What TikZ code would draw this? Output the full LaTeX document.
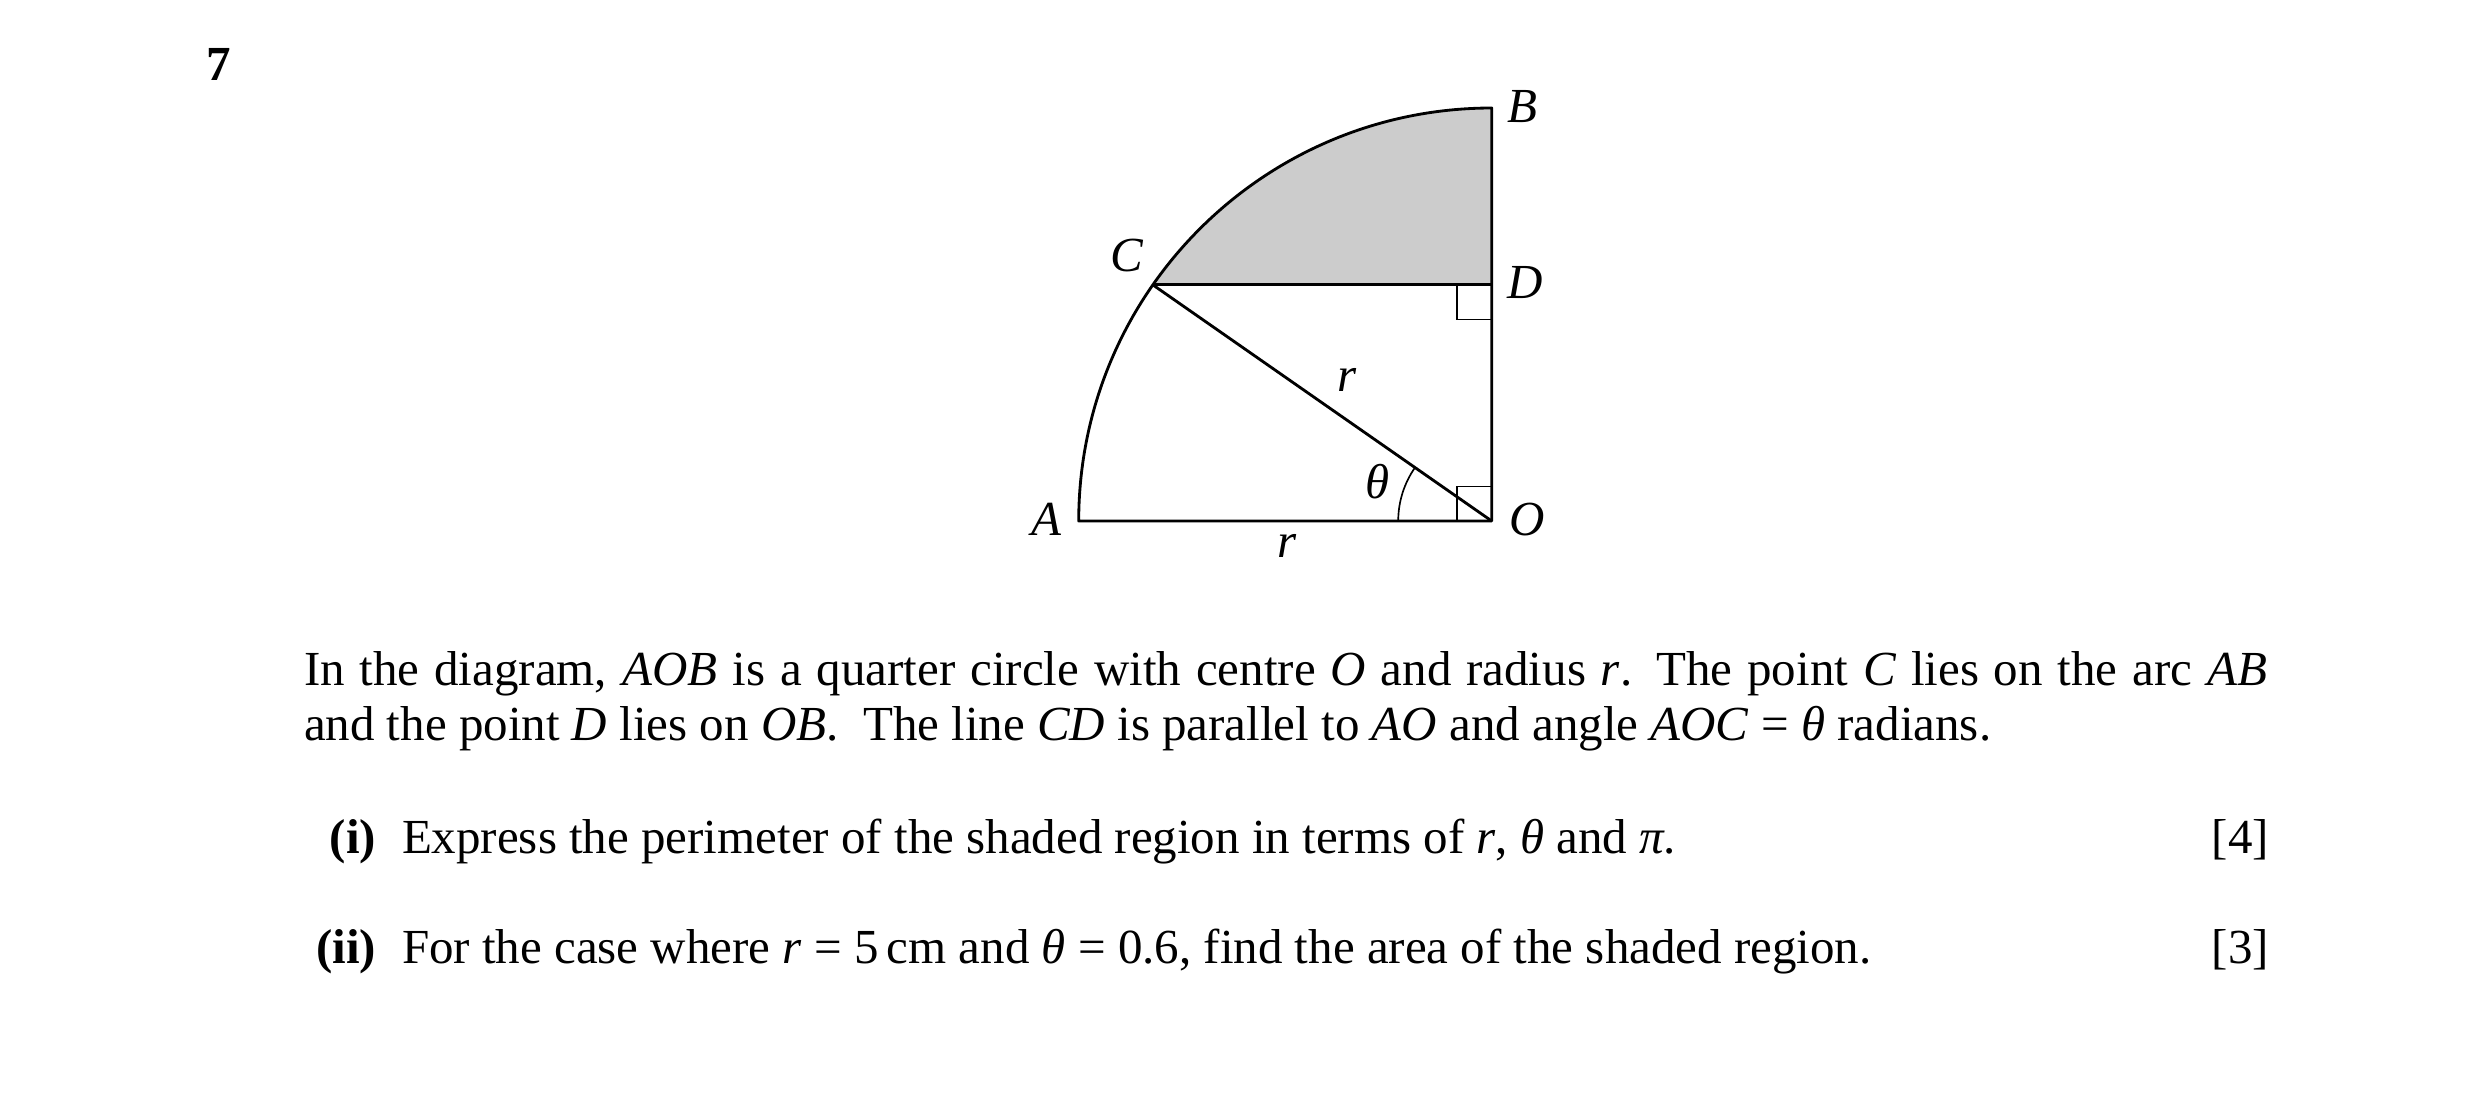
\documentclass[tikz,border=0pt]{standalone}
\usepackage{fontspec}
\setmainfont{Liberation Serif}
\usetikzlibrary{calc}
\begin{document}
\begin{tikzpicture}[x=0.24090pt,y=0.24090pt,
  txt/.style={inner sep=0pt,outer sep=0pt,font=\fontsize{11.8}{14}\selectfont},
  lbl/.style={txt,anchor=base west},
  rgt/.style={txt,anchor=base east},
  thick line/.style={line width=0.68pt,line join=round},
  thin line/.style={line width=0.4pt},
  shade/.style={fill=black!20}]
\useasboundingbox (0,0) rectangle (2480,1118);
% geometry
\coordinate (O) at (1491.7,597);
\coordinate (A) at ($(O)+(-413,0)$);
\coordinate (B) at ($(O)+(0,413)$);
\coordinate (C) at ($(O)+(145.13:413)$);
\coordinate (D) at (O |- C);
% shaded region
\fill[shade] (C) arc[start angle=145.13,end angle=90,radius=413] -- (D) -- cycle;
% right angle marks
\draw[thin line] ($(D)+(-34.5,0)$) -- ($(D)+(-34.5,-34.5)$) -- ($(D)+(0,-34.5)$);
\draw[thin line] ($(O)+(-34.5,0)$) -- ($(O)+(-34.5,34.5)$) -- ($(O)+(0,34.5)$);
% angle arc
\draw[thin line] ($(O)+(-93.5,0)$) arc[start angle=180,end angle=145.13,radius=93.5];
% outline
\draw[thick line] (A) arc[start angle=180,end angle=90,radius=413] -- (O) -- cycle;
\draw[thick line] (C) -- (D);
\draw[thick line] (C) -- (O);
% labels
\node[lbl] (lB) at (1507,996) {\textit{B}};
\node[lbl] (lD) at (1507,820) {\textit{D}};
\node[lbl] (lC) at (1110,846.3) {\textit{C}};
\node[lbl] (lA) at (1031,583) {\textit{A}};
\node[lbl] (lO) at (1509,583) {\textit{O}};
\node[lbl] (lr1) at (1337,726.3) {\textit{r}};
\node[lbl] (lr2) at (1277.5,561) {\textit{r}};
\node[lbl] (lth) at (1365.5,620) {\textit{θ}};
% question number
\node[lbl] (qn) at (206,1037.5) {\textbf{7}};
% text
\node[lbl] (l1) at (304,432.3) {\makebox[472.9pt][s]{In the diagram, \textit{AOB} is a quarter circle with centre \textit{O} and radius \textit{r}. The point \textit{C} lies on the arc \textit{AB}}};
\node[lbl] (l2) at (304,378) {and the point \textit{D} lies on \textit{OB}.\hspace{0.5em}The line \textit{CD} is parallel to \textit{AO} and angle \textit{AOC} = \textit{θ} radians.};
\node[rgt] (pi) at (376,265) {\textbf{(i)}};
\node[lbl] (ti) at (402,265) {Express the perimeter of the shaded region in terms of \textit{r}, \textit{θ} and \textit{π}.};
\node[rgt] (mi) at (2269,265) {[4]};
\node[rgt] (pii) at (376,155) {\textbf{(ii)}};
\node[lbl] (tii) at (402,155) {For the case where \textit{r} = 5\,cm and \textit{θ} = 0.6, find the area of the shaded region.};
\node[rgt] (mii) at (2269,155) {[3]};
\end{tikzpicture}
\end{document}
